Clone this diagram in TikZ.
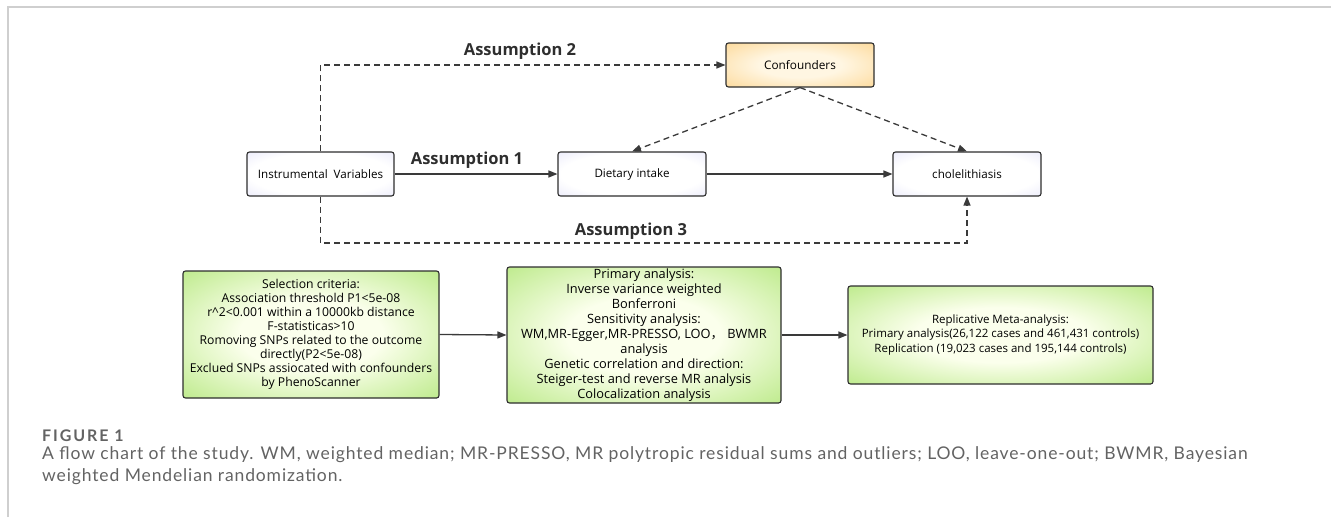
\documentclass[tikz,border=0pt]{standalone}
\usepackage{fontspec}
\setmainfont{Open Sans}
\newfontfamily\capfont[LetterSpace=5]{Lato}
\newfontfamily\figfont[LetterSpace=12]{Lato}
\newfontfamily\cjk{Noto Sans CJK SC}
\usetikzlibrary{arrows.meta}
\definecolor{bd}{HTML}{2E2E2E}
\definecolor{ln}{HTML}{3A3A3A}
\definecolor{lav}{HTML}{D6D6F6}
\definecolor{orE}{HTML}{FBC86F}
\definecolor{orC}{HTML}{FFF6E2}
\definecolor{grE}{HTML}{96DD4E}
\definecolor{grC}{HTML}{FBFFEC}
\definecolor{frame}{HTML}{CFCFCF}
\definecolor{capgray}{HTML}{636363}
\pgfdeclareradialshading{glowblue}{\pgfpoint{0bp}{0bp}}{color(0bp)=(white); color(24bp)=(white); color(50bp)=(lav); color(80bp)=(lav)}
\pgfdeclareradialshading{gloworange}{\pgfpoint{0bp}{0bp}}{color(0bp)=(orC); color(14bp)=(orC); color(50bp)=(orE); color(80bp)=(orE)}
\pgfdeclareradialshading{glowgreen}{\pgfpoint{0bp}{0bp}}{color(0bp)=(grC); color(14bp)=(grC); color(50bp)=(grE); color(80bp)=(grE)}
\tikzset{
  nbox/.style={draw=bd, line width=1.1pt, rounded corners=2.5pt, align=center, inner sep=0pt},
  topbox/.style={nbox, shading=glowblue, minimum height=44pt, font=\fontsize{11.6}{13}\selectfont},
  confbox/.style={nbox, shading=gloworange, minimum height=44pt, font=\fontsize{11.8}{13}\selectfont},
  greenbox/.style={nbox, shading=glowgreen},
  conn/.style={line width=1.3pt, draw=ln, -{Triangle[length=9pt,width=7pt]}},
  dconn/.style={conn, dash pattern=on 6pt off 4pt},
  asm/.style={font=\bfseries\fontsize{16.5}{18}\selectfont, text=bd, inner sep=0pt},
  captext/.style={anchor=base west, inner sep=0pt, text=capgray},
}
\begin{document}
\begin{tikzpicture}[x=1pt,y=-1pt]
\useasboundingbox (0,0) rectangle (1331,517);
% frame
\draw[frame, line width=2pt] (8,517) -- (8,7) -- (1331,7);
% top nodes
\node[topbox, minimum width=147pt] (iv) at (320.5,174) {Instrumental\ \ Variables};
\node[topbox, minimum width=148pt] (diet) at (632,174) {Dietary intake};
\node[topbox, minimum width=148pt] (chole) at (967,174) {cholelithiasis};
\node[confbox, minimum width=148pt] (conf) at (800,65) {Confounders};
% labels
\node[asm] (a2) at (520,51) {Assumption 2};
\node[asm] (a1) at (467,160) {Assumption 1};
\node[asm] (a3) at (631,231) {Assumption 3};
% connectors top
\draw[conn] (iv.east) -- (diet.west);
\draw[conn] (diet.east) -- (chole.west);
\draw[dconn] (iv.north) |- (conf.west);
\coordinate (low) at (0,243);
\draw[dconn] (iv.south) -- (iv.south |- low) -| (chole.south);
\draw[dconn] (conf.south) -- (diet.north);
\draw[dconn] (conf.south) -- (chole.north);
% bottom boxes
\node[greenbox, minimum width=256pt, minimum height=127pt, font=\fontsize{12.2}{14}\selectfont] (sel) at (311,334.5)
 {Selection criteria:\\Association threshold P1<5e-08\\r\^{}2<0.001 within a 10000kb distance\\F-statisticas>10\\Romoving SNPs related to the outcome\\directly(P2<5e-08)\\Exclued SNPs assiocated with confounders\\by PhenoScanner};
\node[greenbox, minimum width=274pt, minimum height=136pt, font=\fontsize{12.8}{15}\selectfont] (prim) at (644,335)
 {Primary analysis:\\Inverse variance weighted\\Bonferroni\\Sensitivity analysis:\\WM,MR-Egger,MR-PRESSO, LOO{\cjk ，}\hspace{4pt}BWMR\\analysis\\Genetic correlation and direction:\\Steiger-test and reverse MR analysis\\Colocalization analysis};
\node[greenbox, minimum width=305pt, minimum height=98pt, font=\fontsize{11.5}{14.5}\selectfont] (rep) at (1000.5,335)
 {Replicative Meta-analysis:\\Primary analysis(26,122 cases and 461,431 controls)\\Replication (19,023 cases and 195,144 controls)};
\draw[conn] (sel.east) -- (prim.west);
\draw[conn] (prim.east) -- (rep.west);
% caption
\node[captext, font=\figfont\bfseries\fontsize{16}{17}\selectfont] (fig) at (42,441) {FIGURE 1};
\node[captext, font=\capfont\fontsize{17.5}{20}\selectfont] (cap1) at (42,459) {A flow chart of the study. WM, weighted median; MR-PRESSO, MR polytropic residual sums and outliers; LOO, leave-one-out; BWMR, Bayesian};
\node[captext, font=\capfont\fontsize{17.5}{20}\selectfont] (cap2) at (42,481) {weighted Mendelian randomization.};
\end{tikzpicture}
\end{document}
